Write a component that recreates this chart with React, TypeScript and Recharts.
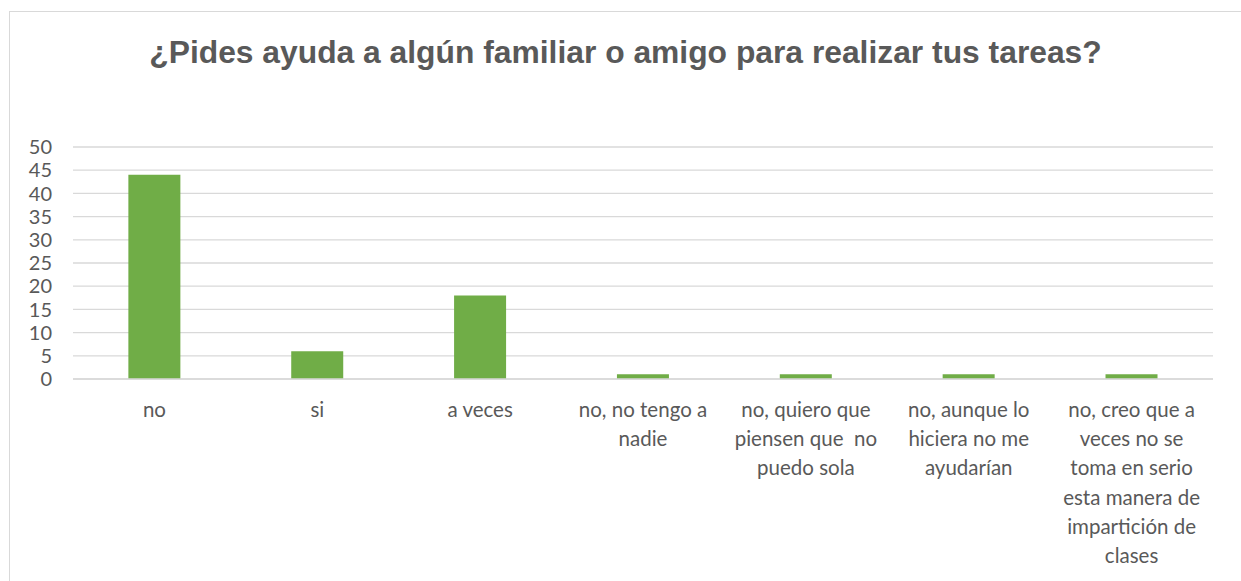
import React from 'react';
import { BarChart, Bar, XAxis, YAxis, CartesianGrid } from 'recharts';

const title = '¿Pides ayuda a algún familiar o amigo para realizar tus tareas?';
const categories = [
  'no',
  'si',
  'a veces',
  'no, no tengo a|nadie',
  'no, quiero que|piensen que  no|puedo sola',
  'no, aunque lo|hiciera no me|ayudarían',
  'no, creo que a|veces no se|toma en serio|esta manera de|impartición de|clases',
];
const values = [44, 6, 18, 1, 1, 1, 1];
const yTicks = [0, 5, 10, 15, 20, 25, 30, 35, 40, 45, 50];

const data = categories.map((c, i) => ({ name: c, value: values[i] }));

const TEXT = '#595959';
const FONT = 'Lato, "Liberation Sans", Arial, sans-serif';

const XTick = (props: any) => {
  const { x, y, payload } = props;
  const lines = String(payload.value).split('|');
  return (
    <text x={x} y={y + 30} textAnchor="middle" fill={TEXT} fontSize={20.5} fontFamily={FONT}>
      {lines.map((l, i) => (
        <tspan key={i} x={x} dy={i === 0 ? 0 : 29.2} style={{ whiteSpace: 'pre' }}>
          {l}
        </tspan>
      ))}
    </text>
  );
};

export default function App() {
  return (
    <div style={{ position: 'absolute', left: 0, top: 0, width: 1241, height: 581, overflow: 'hidden', background: '#fff' }}>
      <div
        style={{
          position: 'absolute',
          left: 9,
          top: 11,
          width: 1260,
          height: 600,
          border: '1px solid #d9d9d9',
          boxSizing: 'border-box',
        }}
      />
      <div
        style={{
          position: 'absolute',
          left: 0,
          top: 32,
          width: 1251,
          textAlign: 'center',
          fontFamily: '"Liberation Sans", Arial, sans-serif',
          fontWeight: 'bold',
          fontSize: 31.8,
          color: TEXT,
          lineHeight: '40px',
          whiteSpace: 'nowrap',
        }}
      >
        {title}
      </div>
      <div style={{ position: 'absolute', left: 0, top: 0 }}>
        <BarChart
          width={1241}
          height={581}
          data={data}
          margin={{ top: 147, right: 28, bottom: 12, left: 0 }}
          barCategoryGap="34%"
        >
          <CartesianGrid vertical={false} stroke="#d9d9d9" strokeWidth={1.3} />
          <YAxis
            width={73}
            domain={[0, 50]}
            ticks={yTicks}
            interval={0}
            axisLine={false}
            tickLine={false}
            tickMargin={15}
            tick={{ fill: TEXT, fontSize: 20, fontFamily: FONT }}
          />
          <XAxis
            dataKey="name"
            height={190}
            interval={0}
            axisLine={{ stroke: '#d9d9d9', strokeWidth: 1.3 }}
            tickLine={false}
            tick={<XTick />}
          />
          <Bar dataKey="value" fill="#70AD47" isAnimationActive={false} />
        </BarChart>
      </div>
    </div>
  );
}
